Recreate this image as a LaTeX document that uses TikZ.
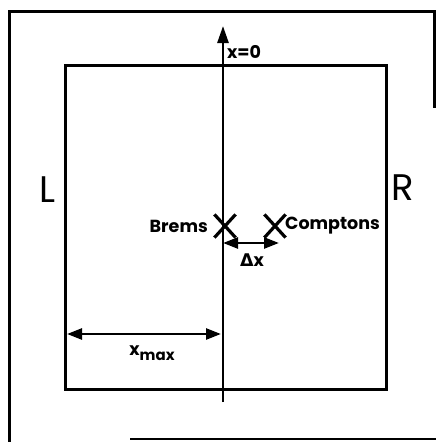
\documentclass[tikz,border=0pt]{standalone}
\usepackage{fontspec}
\setmainfont{Poppins}
\newfontfamily\grk{DejaVu Sans}
\usetikzlibrary{shapes.misc,arrows.meta}
\begin{document}
\begin{tikzpicture}[x=1pt,y=-1pt]
\tikzset{
  frame/.style={line width=3pt},
  lbl/.style={font=\fontsize{17.5}{17.5}\selectfont\bfseries, inner sep=0pt},
  big/.style={font=\fontsize{37}{37}\selectfont, inner sep=0pt},
  xmark/.style={cross out, draw, line width=3.2pt, minimum width=18pt, minimum height=20pt, inner sep=0pt},
  dimarrow/.style={line width=2.6pt, {Triangle[length=15pt,width=11pt]}-{Triangle[length=15pt,width=11pt]}},
  axis/.style={line width=2.6pt, -{Triangle[length=17pt,width=11pt]}}
}
\useasboundingbox (0,0) rectangle (436,442);
% outer frame
\coordinate (o1) at (9,442);
\coordinate (o2) at (9,11);
\coordinate (o3) at (434,11);
\coordinate (o4) at (434,108);
\coordinate (b1) at (130,439);
\coordinate (b2) at (436,439);
\draw[frame] (o1) -- (o2) -- (o3) -- (o4);
\draw[line width=2pt] (b1) -- (b2);
% inner box
\node[draw, frame, minimum width=321pt, minimum height=324pt, inner sep=0pt] (box) at (225.5,227) {};
% axis
\coordinate (axb) at (223,402);
\coordinate (axt) at (223,26);
\draw[axis] (axb) -- (axt);
\node[lbl, anchor=west] (x0) at (227,52) {x=0};
% side labels
\node[big] (L) at (47,190) {L};
\node[big] (R) at (403,188) {R};
% sources
\node[xmark] (brems) at (225,226) {};
\node[xmark] (compt) at (275,226) {};
\node[lbl, anchor=east] (bremsl) at (208,226) {Brems};
\node[lbl, anchor=west] (comptl) at (285,226) {Comptons};
% delta x
\coordinate (dxl) at (223,243);
\coordinate (dxr) at (279,243);
\draw[dimarrow] (dxl) -- (dxr);
\node[lbl] (dxlab) at (252,260) {{\grk\bfseries Δ}x};
% x max
\coordinate (xml) at (67,334);
\coordinate (xmr) at (221,334);
\draw[dimarrow] (xml) -- (xmr);
\node[lbl] (xmlab) at (152,353) {x\raisebox{-5pt}{\fontsize{15}{15}\selectfont\bfseries max}};
\end{tikzpicture}
\end{document}
